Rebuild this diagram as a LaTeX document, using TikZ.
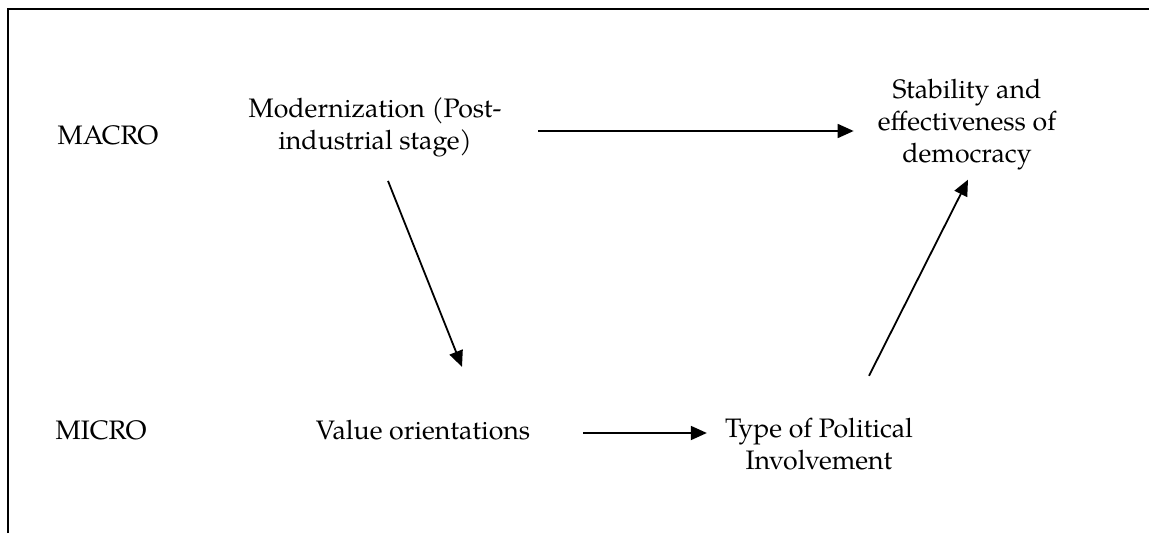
\documentclass[tikz,border=0pt]{standalone}
\usepackage{fontspec}
\setmainfont{TeX Gyre Pagella}
\usetikzlibrary{arrows.meta}
\tikzset{
	lbl/.style={font=\fontsize{26.7}{32}\selectfont, align=center, inner sep=0pt},
	arr/.style={line width=1.8pt, -{Triangle[length=16pt,width=14pt]}}
}
\begin{document}
\begin{tikzpicture}[x=1pt, y=-1pt]
	\useasboundingbox (0,0) rectangle (1149,533);
	\draw[line width=2pt] (8,533) -- (8,9) -- (1149,9);
	\node[lbl] (macro) at (108,135) {MACRO};
	\node[lbl] (micro) at (101,430) {MICRO};
	\node[lbl] (modern) at (375,127) {Modernization (Post-\\industrial stage)};
	\node[lbl] (stab) at (967,125) {Stability and\\effectiveness of\\democracy};
	\node[lbl] (value) at (423,430) {Value orientations};
	\node[lbl] (type) at (819,444) {Type of Political\\Involvement};
	
	\draw[arr] ([xshift=36.5pt,yshift=-4pt]modern.east) -- ([xshift=-24pt,yshift=-6pt]stab.west);
	\draw[arr] ([xshift=13pt,yshift=-24pt]modern.south) -- ([xshift=39pt,yshift=53pt]value.north);
	\draw[arr] ([xshift=53pt,yshift=-3pt]value.east) -- ([xshift=-18pt,yshift=11pt]type.west);
	\draw[arr] ([xshift=50pt,yshift=42pt]type.north) -- ([xshift=1pt,yshift=-9pt]stab.south);
\end{tikzpicture}
\end{document}
